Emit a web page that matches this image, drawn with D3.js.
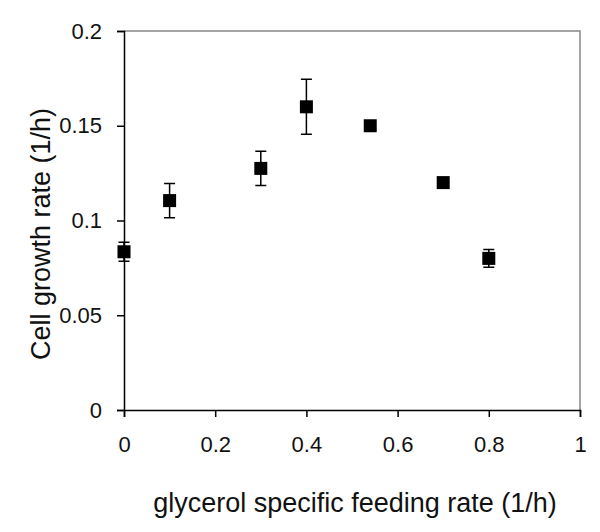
<!DOCTYPE html>
<html>
<head>
<meta charset="utf-8">
<script src="https://cdn.jsdelivr.net/npm/d3@7"></script>
<style>
  body { margin: 0; background: #fff; }
  text { font-family: Arial, "Liberation Sans", sans-serif; fill: #111; }
</style>
</head>
<body>
<div id="chart"></div>
<script>
// data
const feedRate = [0, 0.1, 0.3, 0.4, 0.54, 0.7, 0.8];
const growthRate = [0.0835, 0.1105, 0.1275, 0.160, 0.150, 0.120, 0.080];
const growthErr = [0.005, 0.009, 0.009, 0.0145, 0, 0, 0.0047];
const xTicks = [0, 0.2, 0.4, 0.6, 0.8, 1];
const yTicks = [0, 0.05, 0.1, 0.15, 0.2];

const W = 600, H = 532;
const margin = { top: 31, right: 20, bottom: 122, left: 124 };

const svg = d3.select("#chart").append("svg")
    .attr("width", W)
    .attr("height", H);

const x = d3.scaleLinear().domain([0, 1]).range([margin.left, W - margin.right]);
const y = d3.scaleLinear().domain([0, 0.2]).range([H - margin.bottom, margin.top]);

// grey frame on top and right
svg.append("path")
    .attr("d", `M${x(0)},${y(0.2)}H${x(1)}V${y(0)}`)
    .attr("fill", "none")
    .attr("stroke", "#888")
    .attr("stroke-width", 1.5);

// axes
const xAxis = svg.append("g")
    .attr("transform", `translate(0,${y(0)})`)
    .call(d3.axisBottom(x).tickValues(xTicks).tickSize(7).tickPadding(19)
        .tickFormat(d => d3.format("")(d)));

const yAxis = svg.append("g")
    .attr("transform", `translate(${x(0)},0)`)
    .call(d3.axisLeft(y).tickValues(yTicks).tickSize(7).tickPadding(15)
        .tickFormat(d => d3.format("")(d)));

[xAxis, yAxis].forEach(g => {
    g.select(".domain").attr("stroke", "#000").attr("stroke-width", 1.5);
    g.selectAll(".tick line").attr("stroke", "#000").attr("stroke-width", 1.5);
    g.selectAll(".tick text")
        .style("font-size", "22px")
        .style("font-family", "Arial, 'Liberation Sans', sans-serif")
        .attr("fill", "#111");
});

// error bars
const cap = 5.5;
const bars = svg.append("g")
    .attr("stroke", "#000")
    .attr("stroke-width", 1.5)
    .selectAll("path")
    .data(feedRate.map((d, i) => ({ x: d, y: growthRate[i], e: growthErr[i] })).filter(d => d.e > 0))
    .join("path")
    .attr("fill", "none")
    .attr("d", d => {
        const cx = x(d.x), t = y(d.y + d.e), b = y(d.y - d.e);
        return `M${cx},${t}V${b}M${cx - cap},${t}H${cx + cap}M${cx - cap},${b}H${cx + cap}`;
    });

// square markers
const ms = 13;
svg.append("g")
    .selectAll("rect")
    .data(feedRate.map((d, i) => ({ x: d, y: growthRate[i] })))
    .join("rect")
    .attr("x", d => x(d.x) - ms / 2)
    .attr("y", d => y(d.y) - ms / 2)
    .attr("width", ms)
    .attr("height", ms)
    .attr("fill", "#000");

// axis titles
svg.append("text")
    .attr("x", (152 + 558) / 2)
    .attr("y", 512)
    .attr("text-anchor", "middle")
    .style("font-size", "27px")
    .text("glycerol specific feeding rate (1/h)");

svg.append("text")
    .attr("transform", `translate(50,${(110 + 358) / 2}) rotate(-90)`)
    .attr("text-anchor", "middle")
    .style("font-size", "27px")
    .text("Cell growth rate (1/h)");
</script>
</body>
</html>
